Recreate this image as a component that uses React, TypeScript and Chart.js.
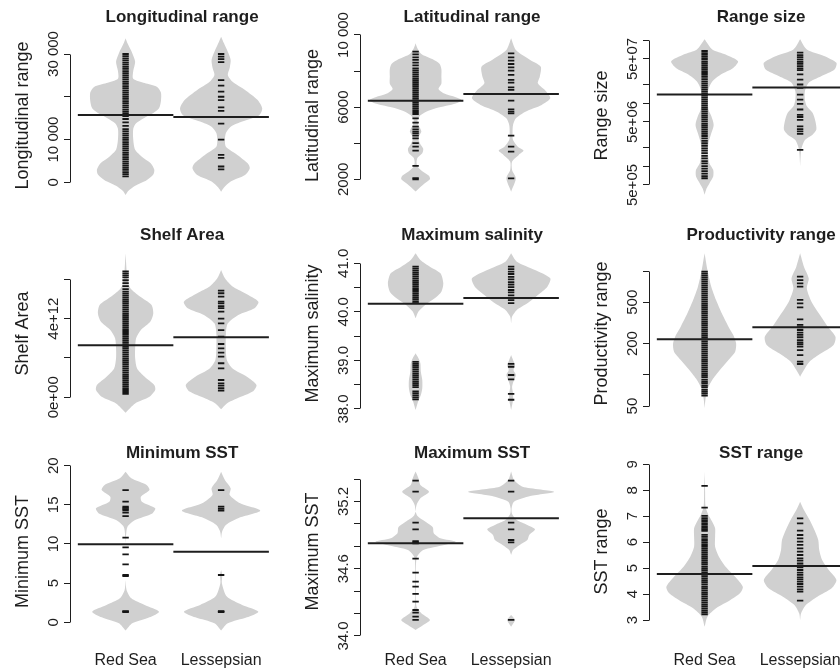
import React, { useEffect, useRef } from "react";
import { Chart, registerables } from "chart.js";

Chart.register(...registerables);

const FONT = '"Liberation Sans", Arial, Helvetica, sans-serif';
const INK = "#1e1e1e";
const BEAN = "#d0d0d0";

const groups = ["Red Sea", "Lessepsian"];

// ---------- Panel 1: Longitudinal range ----------
const lonTicks = [0, 10000, 20000, 30000];
const lonTickLabels = ["0", "10 000", "", "30 000"];
const lonLimits = [-4372, 35612];
const lonMeans = [15744, 15276];
const lonRedObs = [30000, 29500, 29000, 28500, 28000, 27500, 27000, 26500, 26000, 25500, 25000, 24500, 24000, 23500, 23000, 22500, 22000, 21500, 21000, 20500, 20000, 19500, 19000, 18500, 18000, 17500, 17000, 16500, 16000, 15500, 14800, 14000, 13200, 12400, 11900, 11400, 10900, 10400, 9900, 9400, 8900, 8400, 7900, 7400, 6900, 6400, 5900, 5400, 4900, 4400, 3900, 3400, 2900, 2400, 1900, 1400];
const lonLesObs = [30000, 29400, 28800, 28100, 23900, 22600, 21200, 20000, 19200, 17500, 16700, 15300, 13700, 10000, 6400, 5700, 3700, 3000];
const lonRedBeanY = [33700, 32500, 30200, 28200, 26000, 24200, 23200, 22300, 21000, 19000, 17300, 16200, 15000, 13800, 12500, 10000, 7600, 6000, 4500, 3000, 1800, 500, -800, -2000, -2960];
const lonRedBeanW = [0, 0.02, 0.07, 0.1, 0.08, 0.08, 0.2, 0.33, 0.37, 0.37, 0.35, 0.29, 0.19, 0.11, 0.08, 0.08, 0.1, 0.17, 0.26, 0.3, 0.29, 0.22, 0.1, 0.03, 0];
const lonLesBeanY = [34060, 32500, 30500, 28600, 26800, 25100, 23500, 21600, 19300, 17300, 15700, 14200, 13000, 11500, 10000, 8300, 6400, 4400, 3300, 1700, 200, -1200, -2180];
const lonLesBeanW = [0, 0.03, 0.07, 0.1, 0.09, 0.07, 0.12, 0.25, 0.38, 0.43, 0.4, 0.22, 0.1, 0.05, 0.04, 0.05, 0.17, 0.28, 0.3, 0.25, 0.1, 0.03, 0];

// ---------- Panel 2: Latitudinal range ----------
const latTicks = [2000, 4000, 6000, 8000, 10000];
const latTickLabels = ["2000", "", "6000", "", "10 000"];
const latLimits = [797, 10277];
const latMeans = [6361, 6731];
const latRedObs = [9080, 8930, 8760, 8620, 8470, 8320, 8150, 8040, 7930, 7820, 7710, 7600, 7490, 7380, 7270, 7160, 7050, 6940, 6830, 6720, 6610, 6500, 6390, 6280, 6170, 6060, 5950, 5840, 5730, 5620, 5380, 5140, 4920, 4770, 4640, 4550, 4420, 4270, 4000, 3810, 3590, 2740, 2060, 2000];
const latLesObs = [8985, 8763, 8578, 8393, 8209, 8024, 7784, 7507, 7360, 7100, 6953, 6361, 5880, 5751, 5660, 4420, 3811, 3534, 2055];
const latRedBeanY = [9540, 9250, 8950, 8650, 8400, 8100, 7700, 7300, 7000, 6750, 6550, 6400, 6200, 5950, 5750, 5550, 5300, 5000, 4800, 4640, 4450, 4200, 3950, 3700, 3450, 3200, 2950, 2700, 2450, 2200, 2000, 1750, 1320];
const latRedBeanW = [0, 0.02, 0.06, 0.18, 0.25, 0.27, 0.27, 0.27, 0.24, 0.3, 0.42, 0.48, 0.42, 0.22, 0.11, 0.05, 0.02, 0.03, 0.05, 0.06, 0.04, 0.03, 0.05, 0.08, 0.07, 0.02, 0.01, 0.02, 0.07, 0.14, 0.15, 0.09, 0];
const latLesBeanY = [9817, 9170, 8616, 8246, 7690, 7320, 6860, 6490, 6121, 5750, 5380, 5010, 4550, 4180, 3811, 3590, 3350, 2980, 2517, 2055, 1316];
const latLesBeanW = [0, 0.05, 0.2, 0.31, 0.3, 0.28, 0.37, 0.41, 0.32, 0.15, 0.05, 0.02, 0.015, 0.02, 0.07, 0.13, 0.08, 0.01, 0.01, 0.05, 0];

// ---------- Panel 3: Range size (log) ----------
const sizeTicks = [5e5, 1e6, 2e6, 5e6, 1e7, 2e7, 5e7, 1e8];
const sizeTickLabels = ["5e+05", "", "", "5e+06", "", "", "5e+07", ""];
const sizeLimits = [2.786e5, 1.443e8];
const sizeMeans = [1.36e7, 1.76e7];
const sizeRedObs = [6.7e7, 6.2e7, 5.8e7, 5.4e7, 5.0e7, 4.6e7, 4.3e7, 4.0e7, 3.7e7, 3.45e7, 3.2e7, 3.0e7, 2.8e7, 2.6e7, 2.4e7, 2.2e7, 2.05e7, 1.9e7, 1.77e7, 1.65e7, 1.53e7, 1.42e7, 1.32e7, 1.23e7, 1.14e7, 1.06e7, 9.9e6, 9.2e6, 8.5e6, 7.9e6, 7.3e6, 6.8e6, 6.3e6, 5.9e6, 5.5e6, 5.1e6, 4.7e6, 4.4e6, 4.1e6, 3.8e6, 3.5e6, 3.25e6, 3.0e6, 2.75e6, 2.5e6, 2.3e6, 2.1e6, 1.9e6, 1.75e6, 1.6e6, 1.45e6, 1.32e6, 1.2e6, 1.1e6, 1.0e6, 9.1e5, 8.3e5, 7.6e5, 6.9e5, 6.4e5];
const sizeLesObs = [6.3e7, 5.78e7, 5.37e7, 4.93e7, 4.52e7, 4.2e7, 3.85e7, 3.54e7, 3.33e7, 2.84e7, 2.36e7, 1.97e7, 1.74e7, 1.36e7, 1.13e7, 9.7e6, 7.9e6, 6.5e6, 6.0e6, 5.4e6, 4.26e6, 3.86e6, 3.55e6, 3.25e6, 1.81e6];
const sizeRedBeanY = [1.03e8, 7.1e7, 5.9e7, 4.6e7, 3.6e7, 2.84e7, 2.2e7, 1.64e7, 1.13e7, 7.9e6, 6.2e6, 4.5e6, 3.3e6, 2.3e6, 1.6e6, 1.11e6, 8.7e5, 6.8e5, 5.3e5, 4.4e5, 3.5e5];
const sizeRedBeanW = [0, 0.08, 0.22, 0.35, 0.3, 0.17, 0.08, 0.04, 0.035, 0.04, 0.07, 0.095, 0.07, 0.04, 0.035, 0.05, 0.09, 0.09, 0.05, 0.02, 0];
const sizeLesBeanY = [1.03e8, 7.1e7, 5.6e7, 4.35e7, 3.4e7, 2.66e7, 2.1e7, 1.54e7, 1.13e7, 8.9e6, 7.0e6, 5.15e6, 3.8e6, 3.15e6, 2.6e6, 1.92e6, 1.42e6, 9.8e5];
const sizeLesBeanW = [0, 0.07, 0.25, 0.38, 0.36, 0.22, 0.09, 0.05, 0.05, 0.07, 0.13, 0.16, 0.17, 0.13, 0.05, 0.015, 0.005, 0];

// ---------- Panel 4: Shelf Area ----------
const shelfTicks = [0, 2e12, 4e12, 6e12];
const shelfTickLabels = ["0e+00", "", "4e+12", ""];
const shelfLimits = [-1.103e12, 7.59e12];
const shelfMeans = [2.64e12, 3.05e12];
const shelfRedObs = [6.4e12, 6.3e12, 6.2e12, 6.1e12, 5.95e12, 5.8e12, 5.65e12, 5.5e12, 5.37e12, 5.27e12, 5.17e12, 5.07e12, 4.97e12, 4.87e12, 4.77e12, 4.67e12, 4.57e12, 4.47e12, 4.37e12, 4.27e12, 4.17e12, 4.07e12, 3.97e12, 3.87e12, 3.77e12, 3.67e12, 3.57e12, 3.47e12, 3.37e12, 3.27e12, 3.17e12, 3.07e12, 2.97e12, 2.87e12, 2.77e12, 2.67e12, 2.57e12, 2.47e12, 2.37e12, 2.27e12, 2.17e12, 2.07e12, 1.97e12, 1.87e12, 1.77e12, 1.67e12, 1.57e12, 1.47e12, 1.37e12, 1.27e12, 1.17e12, 1.07e12, 0.97e12, 0.87e12, 0.77e12, 0.67e12, 0.57e12, 0.47e12, 0.37e12, 0.27e12, 0.17e12];
const shelfLesObs = [5.42e12, 5.29e12, 5.12e12, 4.86e12, 4.78e12, 4.64e12, 4.53e12, 4.36e12, 4.0e12, 3.76e12, 3.42e12, 3.08e12, 2.71e12, 2.49e12, 2.27e12, 2.07e12, 1.73e12, 1.47e12, 0.88e12, 0.71e12, 0.59e12, 0.46e12, 0.34e12];
const shelfRedBeanY = [7.32e12, 6.47e12, 5.97e12, 5.54e12, 5.12e12, 4.7e12, 4.27e12, 3.85e12, 3.42e12, 3.0e12, 2.49e12, 1.98e12, 1.47e12, 1.05e12, 0.63e12, 0.37e12, 0.03e12, -0.31e12, -0.78e12];
const shelfRedBeanW = [0, 0.01, 0.02, 0.05, 0.15, 0.27, 0.29, 0.26, 0.16, 0.11, 0.1, 0.1, 0.12, 0.2, 0.3, 0.31, 0.25, 0.1, 0];
const shelfLesBeanY = [6.47e12, 6.05e12, 5.63e12, 5.29e12, 4.86e12, 4.53e12, 4.19e12, 3.76e12, 3.25e12, 2.58e12, 1.9e12, 1.47e12, 1.05e12, 0.63e12, 0.29e12, -0.05e12, -0.31e12, -0.61e12];
const shelfLesBeanW = [0, 0.04, 0.12, 0.25, 0.39, 0.35, 0.18, 0.07, 0.05, 0.05, 0.06, 0.12, 0.27, 0.37, 0.33, 0.17, 0.06, 0];

// ---------- Panel 5: Maximum salinity ----------
const salTicks = [38, 38.5, 39, 39.5, 40, 40.5, 41];
const salTickLabels = ["38.0", "", "39.0", "", "40.0", "", "41.0"];
const salLimits = [37.794, 41.315];
const salMeans = [40.169, 40.286];
const salRedObs = [40.93, 40.89, 40.85, 40.81, 40.77, 40.73, 40.69, 40.65, 40.61, 40.57, 40.53, 40.49, 40.45, 40.41, 40.37, 40.33, 40.29, 40.25, 40.21, 40.18, 38.97, 38.93, 38.89, 38.85, 38.81, 38.77, 38.73, 38.69, 38.65, 38.61, 38.57, 38.53, 38.49, 38.45, 38.36, 38.32, 38.28, 38.24, 38.2];
const salLesObs = [40.93, 40.88, 40.83, 40.78, 40.72, 40.67, 40.61, 40.56, 40.51, 40.45, 40.4, 40.34, 40.29, 40.24, 40.18, 38.93, 38.87, 38.7, 38.61, 38.31, 38.19];
const salRedBeanY = [41.206, 41.069, 40.931, 40.794, 40.588, 40.416, 40.279, 40.142, 40.005, 39.867, 39.146, 39.043, 38.94, 38.769, 38.597, 38.426, 38.288, 38.151, 37.979];
const salRedBeanW = [0, 0.05, 0.15, 0.26, 0.29, 0.27, 0.2, 0.1, 0.03, 0, 0, 0.03, 0.05, 0.055, 0.07, 0.07, 0.055, 0.025, 0];
const salLesBeanY = [41.206, 41.034, 40.863, 40.691, 40.519, 40.348, 40.176, 40.039, 39.902, 39.764, 39.112, 39.009, 38.906, 38.803, 38.7, 38.597, 38.46, 38.323, 38.185, 37.979];
const salLesBeanW = [0, 0.06, 0.25, 0.41, 0.38, 0.28, 0.17, 0.06, 0.01, 0, 0, 0.02, 0.04, 0.025, 0.05, 0.03, 0.01, 0.02, 0.02, 0];

// ---------- Panel 6: Productivity range (log) ----------
const prodTicks = [50, 100, 200, 500, 1000];
const prodTickLabels = ["50", "", "200", "500", ""];
const prodLimits = [37.5, 1666];
const prodMeans = [219.6, 286.4];
const prodRedObs = [986, 943, 902, 863, 826, 790, 756, 723, 692, 662, 633, 606, 580, 555, 531, 508, 486, 465, 445, 426, 407, 390, 373, 357, 341, 326, 312, 299, 286, 273, 262, 250, 239, 229, 219, 210, 201, 192, 184, 176, 168, 161, 154, 147, 141, 135, 129, 123, 118, 113, 108, 103, 99, 95, 90, 86, 83, 79, 76, 72, 69, 66, 63];
const prodLesObs = [882, 818, 760, 706, 526, 488, 447, 342, 302, 287, 270, 255, 242, 230, 216, 205, 197, 187, 173, 155, 134, 127];
const prodRedBeanY = [1480, 1023, 706, 526, 391, 291, 242, 201, 167, 139, 111, 89, 71, 57, 47.5];
const prodRedBeanW = [0, 0.03, 0.07, 0.12, 0.18, 0.25, 0.3, 0.33, 0.32, 0.25, 0.16, 0.08, 0.025, 0.008, 0];
const prodLesBeanY = [1480, 1101, 850, 681, 526, 437, 363, 291, 233, 194, 161, 134, 111, 96];
const prodLesBeanW = [0, 0.04, 0.09, 0.07, 0.11, 0.16, 0.22, 0.29, 0.37, 0.35, 0.22, 0.1, 0.04, 0];

// ---------- Panel 7: Minimum SST ----------
const minTicks = [0, 5, 10, 15, 20];
const minTickLabels = ["0", "5", "10", "15", "20"];
const minLimits = [-1.877, 19.96];
const minMeans = [9.96, 9.02];
const minRedObs = [16.89, 15.4, 14.77, 14.6, 14.45, 14.3, 14.0, 13.57, 10.81, 9.57, 8.68, 7.4, 6.04, 5.9, 1.42, 1.36, 1.3];
const minLesObs = [16.89, 14.77, 14.5, 14.26, 6.04, 1.42, 1.36, 1.3];
const minRedBeanY = [19.23, 18.38, 17.53, 16.89, 16.04, 15.4, 14.55, 13.91, 13.06, 12.21, 11.15, 10.09, 5.4, 4.13, 3.06, 2.21, 1.36, 0.64, -0.13, -1.06];
const minRedBeanW = [0, 0.06, 0.22, 0.25, 0.16, 0.17, 0.31, 0.28, 0.1, 0.02, 0.005, 0, 0, 0.01, 0.06, 0.2, 0.35, 0.25, 0.07, 0];
const minLesBeanY = [19.23, 18.17, 17.11, 16.26, 15.19, 14.26, 13.4, 12.43, 11.57, 10.72, 6.68, 6.04, 4.98, 3.28, 2.21, 1.36, 0.64, -0.13, -1.06];
const minLesBeanW = [0, 0.04, 0.1, 0.09, 0.2, 0.41, 0.2, 0.05, 0.01, 0, 0, 0.012, 0.008, 0.06, 0.22, 0.39, 0.27, 0.07, 0];

// ---------- Panel 8: Maximum SST ----------
const maxTicks = [34.0, 34.2, 34.4, 34.6, 34.8, 35.0, 35.2, 35.4];
const maxTickLabels = ["34.0", "", "", "34.6", "", "", "35.2", ""];
const maxLimits = [33.991, 35.516];
const maxMeans = [34.826, 35.049];
const maxRedObs = [35.385, 35.287, 35.011, 34.951, 34.845, 34.835, 34.826, 34.69, 34.565, 34.485, 34.44, 34.375, 34.306, 34.232, 34.208, 34.172, 34.143];
const maxLesObs = [35.385, 35.287, 35.011, 34.951, 34.856, 34.835, 34.143];
const maxRedBeanY = [35.466, 35.406, 35.347, 35.287, 35.228, 35.168, 35.109, 35.07, 35.02, 34.969, 34.916, 34.871, 34.841, 34.812, 34.767, 34.707, 34.618, 34.44, 34.262, 34.202, 34.143, 34.098, 34.054];
const maxRedBeanW = [0, 0.03, 0.05, 0.14, 0.05, 0.01, 0, 0.02, 0.1, 0.18, 0.19, 0.26, 0.42, 0.3, 0.08, 0.015, 0.004, 0.004, 0.01, 0.06, 0.15, 0.08, 0];
const maxLesBeanY = [35.466, 35.391, 35.332, 35.287, 35.248, 35.198, 35.139, 35.088, 35.034, 34.99, 34.951, 34.901, 34.856, 34.812, 34.767, 34.722, 34.187, 34.143, 34.083];
const maxLesBeanW = [0, 0.03, 0.12, 0.45, 0.2, 0.03, 0.005, 0.01, 0.06, 0.17, 0.25, 0.19, 0.17, 0.09, 0.02, 0, 0, 0.04, 0];

// ---------- Panel 9: SST range ----------
const rngTicks = [3, 4, 5, 6, 7, 8, 9];
const rngTickLabels = ["3", "4", "5", "6", "7", "8", "9"];
const rngLimits = [2.345, 8.934];
const rngMeans = [4.773, 5.081];
const rngRedObs = [8.17, 7.33, 7.01, 6.92, 6.85, 6.78, 6.7, 6.62, 6.55, 6.49, 6.44, 6.28, 6.2, 6.12, 6.05, 5.97, 5.89, 5.82, 5.74, 5.66, 5.59, 5.51, 5.43, 5.36, 5.28, 5.2, 5.13, 5.05, 4.97, 4.9, 4.82, 4.74, 4.67, 4.59, 4.51, 4.44, 4.36, 4.28, 4.21, 4.13, 4.05, 3.98, 3.9, 3.82, 3.75, 3.67, 3.59, 3.52, 3.44, 3.36, 3.29, 3.22];
const rngLesObs = [6.919, 6.726, 6.443, 6.276, 6.148, 6.019, 5.891, 5.762, 5.634, 5.505, 5.377, 5.287, 5.184, 5.107, 5.03, 4.927, 4.824, 4.735, 4.645, 4.568, 4.478, 4.388, 4.285, 4.182, 4.092, 3.745];
const rngRedBeanY = [8.718, 8.011, 7.369, 7.047, 6.79, 6.533, 6.212, 5.827, 5.441, 5.056, 4.67, 4.285, 4.028, 3.771, 3.45, 3.128, 2.743];
const rngRedBeanW = [0, 0.005, 0.01, 0.04, 0.08, 0.11, 0.11, 0.11, 0.15, 0.22, 0.32, 0.4, 0.37, 0.27, 0.12, 0.03, 0];
const rngLesBeanY = [7.561, 7.24, 6.854, 6.469, 6.084, 5.698, 5.313, 4.927, 4.542, 4.221, 3.9, 3.578, 3.257, 3.0];
const rngLesBeanW = [0, 0.04, 0.1, 0.15, 0.19, 0.2, 0.23, 0.3, 0.38, 0.33, 0.18, 0.06, 0.01, 0];

type PanelSpec = {
  title: string;
  yLabel: string;
  log: boolean;
  limits: number[];
  ticks: number[];
  tickLabels: string[];
  means: number[];
  obs: number[][];
  beanY: number[][];
  beanW: number[][];
  row: number;
  col: number;
};

const panels: PanelSpec[] = [
  { title: "Longitudinal range", yLabel: "Longitudinal range", log: false, limits: lonLimits, ticks: lonTicks, tickLabels: lonTickLabels, means: lonMeans, obs: [lonRedObs, lonLesObs], beanY: [lonRedBeanY, lonLesBeanY], beanW: [lonRedBeanW, lonLesBeanW], row: 0, col: 0 },
  { title: "Latitudinal range", yLabel: "Latitudinal range", log: false, limits: latLimits, ticks: latTicks, tickLabels: latTickLabels, means: latMeans, obs: [latRedObs, latLesObs], beanY: [latRedBeanY, latLesBeanY], beanW: [latRedBeanW, latLesBeanW], row: 0, col: 1 },
  { title: "Range size", yLabel: "Range size", log: true, limits: sizeLimits, ticks: sizeTicks, tickLabels: sizeTickLabels, means: sizeMeans, obs: [sizeRedObs, sizeLesObs], beanY: [sizeRedBeanY, sizeLesBeanY], beanW: [sizeRedBeanW, sizeLesBeanW], row: 0, col: 2 },
  { title: "Shelf Area", yLabel: "Shelf Area", log: false, limits: shelfLimits, ticks: shelfTicks, tickLabels: shelfTickLabels, means: shelfMeans, obs: [shelfRedObs, shelfLesObs], beanY: [shelfRedBeanY, shelfLesBeanY], beanW: [shelfRedBeanW, shelfLesBeanW], row: 1, col: 0 },
  { title: "Maximum salinity", yLabel: "Maximum salinity", log: false, limits: salLimits, ticks: salTicks, tickLabels: salTickLabels, means: salMeans, obs: [salRedObs, salLesObs], beanY: [salRedBeanY, salLesBeanY], beanW: [salRedBeanW, salLesBeanW], row: 1, col: 1 },
  { title: "Productivity range", yLabel: "Productivity range", log: true, limits: prodLimits, ticks: prodTicks, tickLabels: prodTickLabels, means: prodMeans, obs: [prodRedObs, prodLesObs], beanY: [prodRedBeanY, prodLesBeanY], beanW: [prodRedBeanW, prodLesBeanW], row: 1, col: 2 },
  { title: "Minimum SST", yLabel: "Minimum SST", log: false, limits: minLimits, ticks: minTicks, tickLabels: minTickLabels, means: minMeans, obs: [minRedObs, minLesObs], beanY: [minRedBeanY, minLesBeanY], beanW: [minRedBeanW, minLesBeanW], row: 2, col: 0 },
  { title: "Maximum SST", yLabel: "Maximum SST", log: false, limits: maxLimits, ticks: maxTicks, tickLabels: maxTickLabels, means: maxMeans, obs: [maxRedObs, maxLesObs], beanY: [maxRedBeanY, maxLesBeanY], beanW: [maxRedBeanW, maxLesBeanW], row: 2, col: 1 },
  { title: "SST range", yLabel: "SST range", log: false, limits: rngLimits, ticks: rngTicks, tickLabels: rngTickLabels, means: rngMeans, obs: [rngRedObs, rngLesObs], beanY: [rngRedBeanY, rngLesBeanY], beanW: [rngRedBeanW, rngLesBeanW], row: 2, col: 2 },
];

const COL_LEFT = [0, 290, 579];
const ROW_TOP = [0, 218, 436];
const CANVAS_W = 300;

function beanOutline(c: number, ys: number[], ws: number[]) {
  const right = ys.map((y, i) => ({ x: c + ws[i], y }));
  const left = ys.map((y, i) => ({ x: c - ws[i], y })).reverse();
  return right.concat(left);
}

// split a bean profile into separate closed pieces wherever its width reaches zero
function beanPieces(c: number, ys: number[], ws: number[]) {
  const pieces: { x: number; y: number }[][] = [];
  let start = 0;
  for (let i = 1; i < ys.length; i++) {
    if (ws[i] === 0) {
      if (i - start > 1) {
        pieces.push(beanOutline(c, ys.slice(start, i + 1), ws.slice(start, i + 1)));
      }
      start = i;
    }
  }
  return pieces;
}

function buildConfig(spec: PanelSpec): any {
  const bottomRow = spec.row === 2;
  const datasets: any[] = [];
  spec.means.forEach((m, g) => {
    datasets.push({
      type: "line",
      data: [{ x: g + 1 - 0.5, y: m }, { x: g + 1 + 0.5, y: m }],
      borderColor: INK,
      borderWidth: 2,
      pointRadius: 0,
      fill: false,
      order: 0,
    });
  });
  spec.obs.forEach((vals, g) => {
    datasets.push({
      type: "scatter",
      data: vals.map((v) => ({ x: g + 1, y: v })),
      pointStyle: "line",
      pointRadius: 3.2,
      pointBorderWidth: 1.8,
      pointBorderColor: "#151515",
      pointBackgroundColor: "#151515",
      showLine: false,
      order: 1,
    });
  });
  spec.beanY.forEach((ys, g) => {
    beanPieces(g + 1, ys, spec.beanW[g]).forEach((piece) => {
      datasets.push({
        type: "line",
        data: piece,
        borderColor: "rgba(0,0,0,0)",
        borderWidth: 0,
        backgroundColor: BEAN,
        fill: "shape",
        tension: 0.25,
        pointRadius: 0,
        order: 2,
      });
    });
  });

  const rAxis = {
    id: "rAxis",
    afterDraw(chart: any) {
      const s = chart.scales.y;
      const ctx = chart.ctx;
      const align = (p: number) => Math.round(p - 0.5) + 0.5;
      const x = s.right + 0.5;
      const ya = align(s.getPixelForValue(spec.ticks[0]));
      const yb = align(s.getPixelForValue(spec.ticks[spec.ticks.length - 1]));
      ctx.save();
      ctx.strokeStyle = INK;
      ctx.lineWidth = 1;
      ctx.beginPath();
      ctx.moveTo(x, ya);
      ctx.lineTo(x, yb);
      ctx.stroke();
      ctx.fillStyle = INK;
      ctx.font = `15px ${FONT}`;
      ctx.textAlign = "center";
      ctx.textBaseline = "middle";
      spec.ticks.forEach((t, i) => {
        const lab = spec.tickLabels[i];
        if (!lab) return;
        const y = s.getPixelForValue(t);
        ctx.save();
        ctx.translate(s.right - 16, y);
        ctx.rotate(-Math.PI / 2);
        ctx.fillText(lab, 0, 0);
        ctx.restore();
      });
      ctx.restore();
    },
  };

  return {
    type: "line",
    data: { datasets },
    plugins: [rAxis],
    options: {
      responsive: false,
      animation: false,
      events: [],
      layout: { padding: 0 },
      plugins: {
        legend: { display: false },
        tooltip: { enabled: false },
        title: {
          display: true,
          text: spec.title,
          fullSize: false,
          align: "center",
          color: INK,
          font: { family: FONT, size: 17, weight: "bold", lineHeight: 1.2 },
          padding: { top: 7.5, bottom: 2.1 },
        },
      },
      scales: {
        x: {
          type: "linear",
          min: 0.418,
          max: 2.765,
          afterBuildTicks: (s: any) => {
            s.ticks = [{ value: 1 }, { value: 2 }];
          },
          afterFit: (s: any) => {
            s.height = bottomRow ? 33 : 17;
          },
          ticks: {
            display: bottomRow,
            autoSkip: false,
            maxRotation: 0,
            padding: 14,
            color: INK,
            font: { family: FONT, size: 16, lineHeight: 1.2 },
            callback: (v: any) => groups[Math.round(Number(v)) - 1] || "",
          },
          grid: { display: false, drawTicks: false },
          border: { display: false },
        },
        y: {
          type: spec.log ? "logarithmic" : "linear",
          min: spec.limits[0],
          max: spec.limits[1],
          afterBuildTicks: (s: any) => {
            s.ticks = spec.ticks.map((v) => ({ value: v }));
          },
          afterFit: (s: any) => {
            s.width = 70;
          },
          ticks: { display: false },
          grid: {
            display: true,
            drawOnChartArea: false,
            drawTicks: true,
            tickLength: 6,
            color: INK,
            lineWidth: 1,
          },
          border: { display: false },
          title: {
            display: true,
            text: spec.yLabel,
            color: INK,
            font: { family: FONT, size: 18, lineHeight: 1.2 },
            padding: { top: 12, bottom: 0 },
          },
        },
      },
    },
  };
}

function Panel({ spec }: { spec: PanelSpec }) {
  const ref = useRef<HTMLCanvasElement | null>(null);
  const h = spec.row === 2 ? 234 : 218;
  useEffect(() => {
    if (!ref.current) return;
    const chart = new Chart(ref.current, buildConfig(spec));
    return () => chart.destroy();
  }, [spec]);
  return (
    <canvas
      ref={ref}
      width={CANVAS_W}
      height={h}
      style={{
        position: "absolute",
        left: COL_LEFT[spec.col],
        top: ROW_TOP[spec.row],
        width: CANVAS_W,
        height: h,
        display: "block",
      }}
    />
  );
}

export default function App() {
  return (
    <div
      style={{
        position: "fixed",
        left: 0,
        top: 0,
        width: 840,
        height: 670,
        overflow: "hidden",
        background: "#ffffff",
      }}
    >
      {panels.map((p) => (
        <Panel key={p.title} spec={p} />
      ))}
    </div>
  );
}
